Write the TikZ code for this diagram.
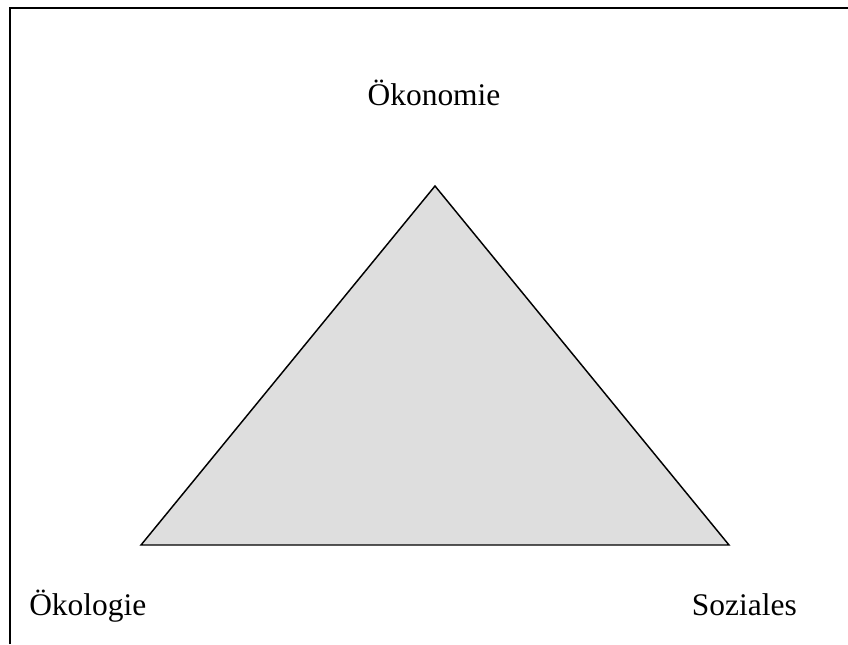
\documentclass[tikz,border=0pt]{standalone}
\usepackage{fontspec}
\setmainfont{Liberation Serif}
\begin{document}
\begin{tikzpicture}[x=0.75pt,y=-0.75pt,
  lbl/.style={inner sep=0pt,font=\fontsize{23.6}{28}\selectfont},
  tri/.style={draw=black,fill=black!13,line width=1.1pt,line join=miter}]
\useasboundingbox (0,0) rectangle (848,644);
\draw[line width=1.5pt] (10,644) -- (10,8) -- (848,8);
\coordinate (top) at (435,186);
\coordinate (bl) at (141,545);
\coordinate (br) at (729,545);
\draw[tri] (top) -- (br) -- (bl) -- cycle;
\node[lbl,anchor=base] (oek) at (434,105.5) {Ökonomie};
\node[lbl,anchor=base west] (oeko) at (29,615.5) {Ökologie};
\node[lbl,anchor=base east] (soz) at (797,615.5) {Soziales};
\end{tikzpicture}
\end{document}
